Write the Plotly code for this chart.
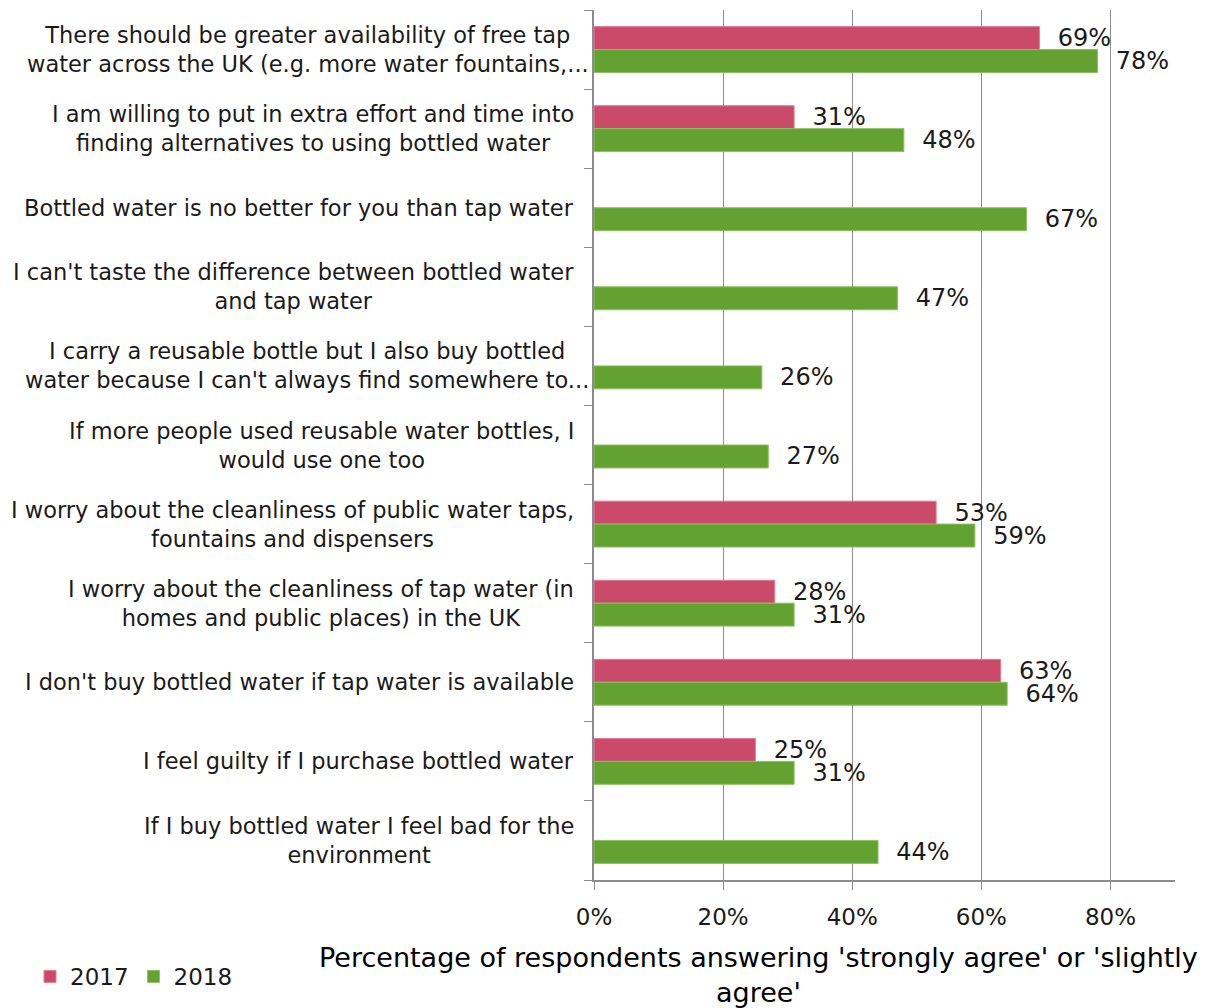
import plotly.graph_objects as go

# Survey statements (top to bottom) and share agreeing, by year
statements = [
    "There should be greater availability of free tap<br>water across the UK (e.g. more water fountains,...",
    "I am willing to put in extra effort and time into<br>finding alternatives to using bottled water",
    "Bottled water is no better for you than tap water",
    "I can't taste the difference between bottled water<br>and tap water",
    "I carry a reusable bottle but I also buy bottled<br>water because I can't always find somewhere to...",
    "If more people used reusable water bottles, I<br>would use one too",
    "I worry about the cleanliness of public water taps,<br>fountains and dispensers",
    "I worry about the cleanliness of tap water (in<br>homes and public places) in the UK",
    "I don't buy bottled water if tap water is available",
    "I feel guilty if I purchase bottled water",
    "If I buy bottled water I feel bad for the<br>environment",
]
values_2017 = [0.69, 0.31, None, None, None, None, 0.53, 0.28, 0.63, 0.25, None]
values_2018 = [0.78, 0.48, 0.67, 0.47, 0.26, 0.27, 0.59, 0.31, 0.64, 0.31, 0.44]
x_ticks = [0, 0.2, 0.4, 0.6, 0.8]
x_tick_labels = ["0%", "20%", "40%", "60%", "80%"]
axis_title = "Percentage of respondents answering 'strongly agree' or 'slightly<br>agree'"

FONT = "DejaVu Sans"
RED = "#CC4A69"
GREEN = "#63A230"
GRID = "#8C8C8C"
TEXT = "#1a1a1a"

cat_ids = list(range(len(statements)))


def pct_labels(vals):
    return ["" if v is None else f"  {round(v * 100)}%" for v in vals]


fig = go.Figure()
fig.add_trace(go.Bar(
    name="2017", y=cat_ids, x=values_2017, orientation="h",
    marker=dict(color=RED, line=dict(color="#E07D95", width=1)),
    text=pct_labels(values_2017), textposition="outside",
    textfont=dict(family=FONT, size=24, color=TEXT),
    constraintext="none", cliponaxis=False,
))
fig.add_trace(go.Bar(
    name="2018", y=cat_ids, x=values_2018, orientation="h",
    marker=dict(color=GREEN, line=dict(color="#8CC060", width=1)),
    text=pct_labels(values_2018), textposition="outside",
    textfont=dict(family=FONT, size=24, color=TEXT),
    constraintext="none", cliponaxis=False,
))

# Category labels: right-aligned block, lines centred within it
annotations = []
for i, s in enumerate(statements):
    right_px = 591 if s.endswith("...") else 576
    annotations.append(dict(
        x=(right_px - 594) / 581, xref="paper", y=i, yref="y",
        text=s, showarrow=False, xanchor="right", yanchor="middle",
        align="center", font=dict(family=FONT, size=22.5, color=TEXT),
    ))
annotations.append(dict(
    x=(758 - 594) / 581, xref="paper", y=-(96 / 875), yref="paper",
    text=axis_title, showarrow=False, xanchor="center", yanchor="middle",
    align="center", font=dict(family=FONT, size=27, color="#000000"),
))

fig.update_layout(
    width=1223, height=1008,
    margin=dict(l=594, r=48, t=10, b=123),
    paper_bgcolor="white", plot_bgcolor="white",
    barmode="group", bargap=0.42, bargroupgap=0,
    font=dict(family=FONT, color=TEXT),
    showlegend=True,
    legend=dict(
        orientation="h", x=(30 - 594) / 581, xanchor="left",
        y=-(97 / 875), yanchor="middle", traceorder="normal",
        font=dict(family=FONT, size=23, color=TEXT),
        itemwidth=30, bgcolor="rgba(0,0,0,0)",
    ),
    annotations=annotations,
)
fig.update_xaxes(
    range=[0, 0.9], tickvals=x_ticks, ticktext=x_tick_labels,
    showgrid=True, gridcolor=GRID, gridwidth=1.3,
    showline=True, linecolor=GRID, linewidth=1.5,
    ticks="outside", ticklen=8, tickcolor=GRID, tickwidth=1.3,
    tickfont=dict(family=FONT, size=23, color=TEXT),
    zeroline=False, ticklabelstandoff=8,
)
fig.update_yaxes(
    type="category", autorange="reversed",
    tickvals=cat_ids, ticktext=[""] * len(cat_ids), tickson="boundaries",
    showline=True, linecolor=GRID, linewidth=1.5,
    ticks="outside", ticklen=8, tickcolor=GRID, tickwidth=1.3,
    showgrid=False, zeroline=False,
)

fig.write_html("out.html")
